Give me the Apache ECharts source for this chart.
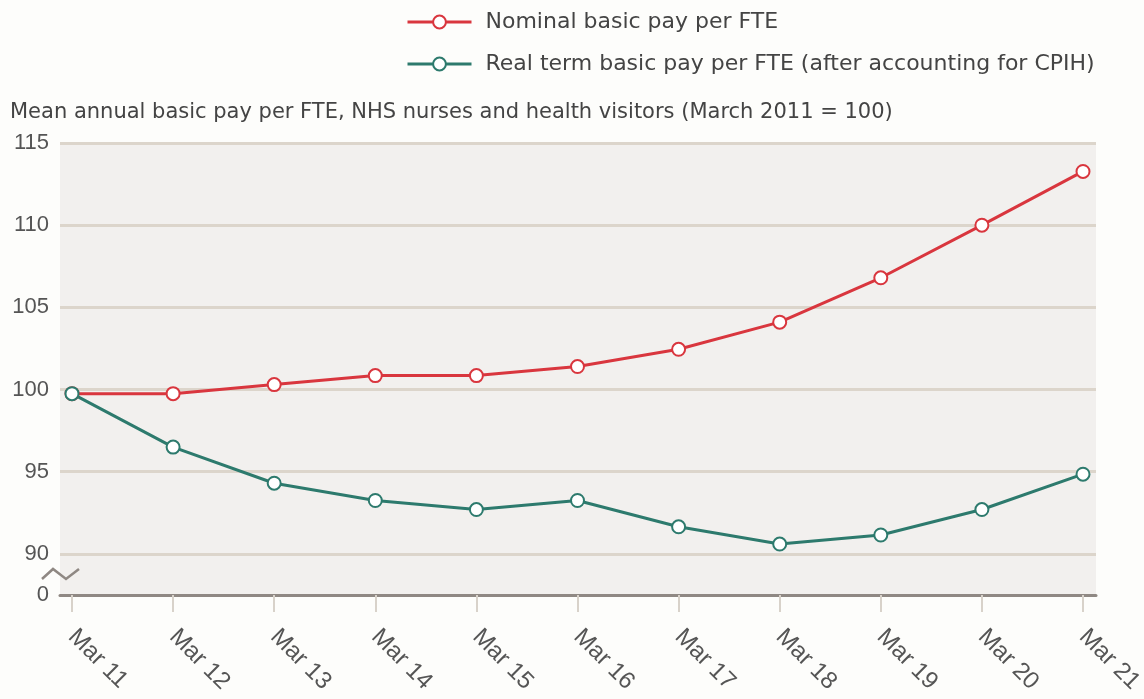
<!DOCTYPE html>
<html>
<head>
<meta charset="utf-8">
<script src="https://cdn.jsdelivr.net/npm/echarts@6/dist/echarts.min.js"></script>
<style>
  html, body { margin: 0; padding: 0; background: #fdfdfb; }
  #chart { width: 1144px; height: 699px; }
</style>
</head>
<body>
<div id="chart"></div>
<script>
// x categories
var years = ["Mar 11", "Mar 12", "Mar 13", "Mar 14", "Mar 15", "Mar 16",
  "Mar 17", "Mar 18", "Mar 19", "Mar 20", "Mar 21"];
// index values (March 2011 = 100)
var nominalPay = [99.75, 99.75, 100.3, 100.85, 100.85, 101.4, 102.45, 104.1, 106.8, 110.0, 113.27];
var realPay = [99.75, 96.5, 94.3, 93.25, 92.7, 93.25, 91.65, 90.6, 91.15, 92.7, 94.85];
var seriesNames = ["Nominal basic pay per FTE", "Real term basic pay per FTE (after accounting for CPIH)"];
// axis: bottom tick stands for 0 (broken axis)
var yMin = 87.5, yMax = 115, yStep = 2.5;

var font = "'Liberation Sans', Arial, sans-serif";
var wideFont = "'DejaVu Sans', sans-serif";
var red = "#d9363e";
var teal = "#2d7a6d";

var chart = echarts.init(document.getElementById("chart"));

var option = {
  backgroundColor: "#fdfdfb",
  textStyle: { fontFamily: font },
  title: {
    text: "Mean annual basic pay per FTE, NHS nurses and health visitors (March 2011 = 100)",
    left: 5,
    top: 97,
    textStyle: { fontSize: 21, fontWeight: "normal", color: "#444", fontFamily: wideFont }
  },
  legend: {
    orient: "vertical",
    left: 401,
    top: 6,
    itemGap: 20,
    itemWidth: 64,
    itemHeight: 16,
    lineStyle: { width: 3 },
    itemStyle: { borderWidth: 3 },
    textStyle: { fontSize: 22, color: "#444", fontFamily: wideFont, padding: [0, 0, 0, 9] },
    data: seriesNames
  },
  grid: [
    // full plot panel
    { left: 60, right: 48, top: 143, bottom: 104, show: true, backgroundColor: "#f2f0ee", borderWidth: 0,
      containLabel: false, outerBoundsMode: "none" },
    // inner area where the points sit
    { left: 72, right: 61, top: 143, bottom: 104, containLabel: false, outerBoundsMode: "none" }
  ],
  xAxis: [
    {
      gridIndex: 0, type: "value", min: 0, max: 1,
      axisLine: { show: true, lineStyle: { color: "#8f8883", width: 3 } },
      axisTick: { show: false }, axisLabel: { show: false }, splitLine: { show: false }
    },
    {
      gridIndex: 1, type: "category", data: years, boundaryGap: false,
      axisLine: { show: false },
      axisTick: { show: true, length: 17, lineStyle: { color: "#d8d2ca", width: 2 } },
      axisLabel: { rotate: -45, margin: 38, fontSize: 24, color: "#555", fontFamily: font },
      splitLine: { show: false }
    }
  ],
  yAxis: [
    {
      gridIndex: 0, type: "value", min: yMin, max: yMax, interval: yStep,
      axisLine: { show: false }, axisTick: { show: false },
      axisLabel: {
        margin: 11, fontSize: 22, color: "#555", fontFamily: font,
        formatter: function (v) {
          if (v === yMin) return "0";
          return v % 5 === 0 ? String(v) : "";
        }
      },
      splitLine: { show: true, lineStyle: { color: ["transparent", "#dcd5cb"], width: 3 } }
    },
    { gridIndex: 1, type: "value", min: yMin, max: yMax, show: false, splitLine: { show: false } }
  ],
  series: [
    {
      name: seriesNames[0], type: "line", xAxisIndex: 1, yAxisIndex: 1,
      data: nominalPay, color: red,
      symbol: "emptyCircle", symbolSize: 13,
      lineStyle: { width: 3, color: red },
      itemStyle: { color: red, borderWidth: 3 }
    },
    {
      name: seriesNames[1], type: "line", xAxisIndex: 1, yAxisIndex: 1,
      data: realPay, color: teal,
      symbol: "emptyCircle", symbolSize: 13,
      lineStyle: { width: 3, color: teal },
      itemStyle: { color: teal, borderWidth: 3 }
    }
  ],
  graphic: [
    {
      // axis break mark
      type: "polyline", z: 100,
      shape: { points: [[42, 579], [53, 569], [66, 579], [79, 569]] },
      style: { stroke: "#8f8883", lineWidth: 2.5, fill: null }
    }
  ]
};

chart.setOption(option);
</script>
</body>
</html>
